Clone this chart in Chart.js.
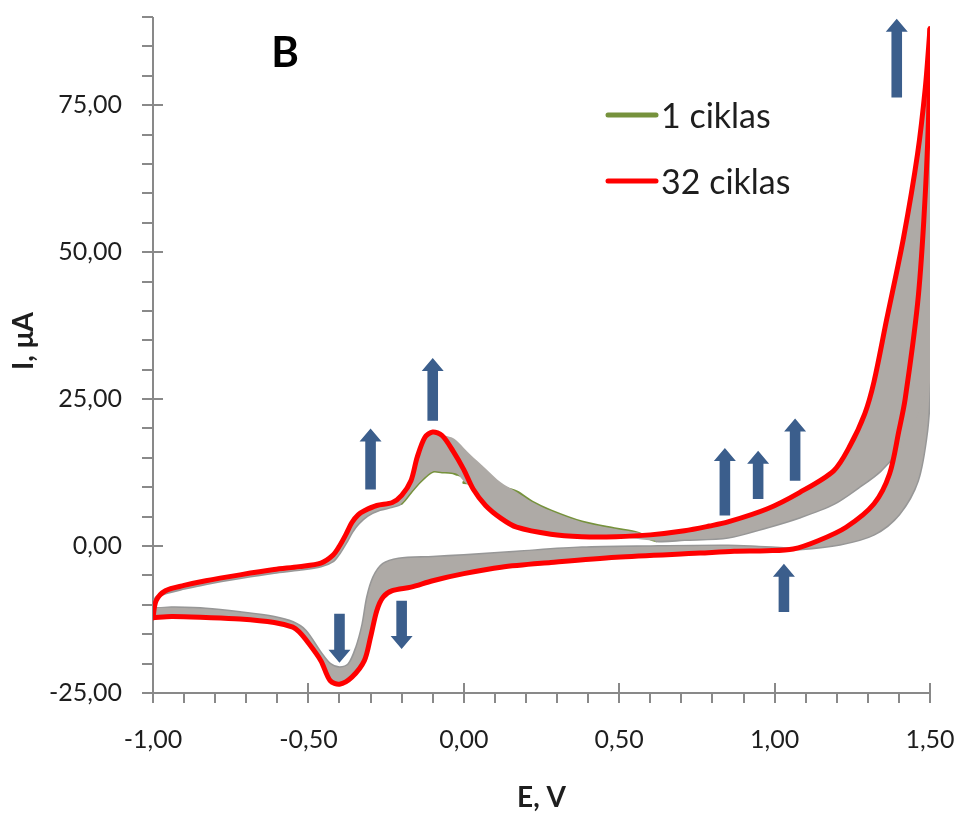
<!DOCTYPE html>
<html>
<head>
<meta charset="utf-8">
<script src="https://cdn.jsdelivr.net/npm/chart.js@4"></script>
<style>
html,body{margin:0;padding:0;background:#fff;}
#wrap{width:959px;height:814px;position:relative;}
</style>
</head>
<body>
<div id="wrap"><canvas id="c" width="959" height="814"></canvas></div>
<script>
// ---------- Data (E in V, I in µA) ----------
// Cycle 32, anodic sweep (-1.00 -> 1.50)
const c32FwdE = [-1.00,-0.99,-0.96,-0.90,-0.83,-0.72,-0.61,-0.53,-0.46,-0.42,-0.40,-0.38,-0.36,-0.34,-0.32,-0.28,-0.23,-0.20,-0.17,-0.15,-0.125,-0.10,-0.07,-0.035,0.00,0.03,0.07,0.12,0.17,0.28,0.38,0.49,0.60,0.71,0.79,0.85,0.975,1.08,1.19,1.24,1.29,1.32,1.36,1.415,1.46,1.485,1.50];
const c32FwdI = [-12.2,-9.3,-7.6,-6.7,-5.9,-4.9,-4.0,-3.5,-2.9,-1.5,0.0,1.9,4.0,5.3,6.0,6.9,7.4,8.6,11.1,15.1,18.5,19.4,18.8,16.2,13.0,9.7,6.9,4.7,3.2,2.0,1.6,1.6,1.9,2.6,3.4,4.1,6.3,9.1,12.8,16.8,22.5,28.0,38.4,52.5,66.7,78.0,88.0];
// Cycle 32, cathodic sweep (1.50 -> -1.00)
const c32RevE = [1.50,1.495,1.48,1.46,1.42,1.40,1.37,1.32,1.23,1.14,1.06,0.975,0.87,0.76,0.49,0.28,0.12,0.00,-0.10,-0.17,-0.23,-0.26,-0.28,-0.30,-0.32,-0.36,-0.40,-0.43,-0.46,-0.50,-0.53,-0.55,-0.61,-0.72,-0.83,-0.94,-1.00];
const c32RevI = [88.0,72.3,55.3,41.2,25.0,19.6,12.3,7.2,3.2,0.9,-0.5,-0.8,-0.9,-1.2,-1.9,-2.8,-3.6,-4.7,-5.9,-7.0,-7.6,-8.7,-11.0,-15.5,-19.5,-22.3,-23.5,-22.9,-19.5,-16.5,-14.6,-13.8,-13.0,-12.4,-12.15,-12.0,-12.2];

// Cycle 1 (starts at 0.00 V, anodic to 1.50, cathodic to -1.00, back to 0.00)
const c1E = [0.00,0.03,0.08,0.12,0.17,0.22,0.28,0.38,0.49,0.56,0.62,0.71,0.85,0.975,1.08,1.19,1.27,1.34,1.40,1.45,1.48,1.50,
             1.49,1.46,1.40,1.32,1.21,1.08,1.03,0.95,0.85,0.60,0.38,0.17,0.00,-0.10,-0.21,-0.26,-0.29,-0.31,-0.325,-0.345,-0.37,-0.40,-0.43,-0.46,-0.51,-0.55,-0.61,-0.72,-0.83,-0.94,-1.00,
             -0.99,-0.96,-0.90,-0.83,-0.72,-0.61,-0.53,-0.46,-0.42,-0.40,-0.38,-0.36,-0.34,-0.31,-0.27,-0.23,-0.20,-0.17,-0.14,-0.10,-0.07,-0.04,-0.02,0.00];
const c1I = [10.8,10.7,10.4,10.0,9.2,7.5,6.0,4.1,2.9,2.2,0.9,1.1,1.5,3.2,4.9,7.2,10.0,12.8,16.5,21.0,25.0,28.0,
             19.6,11.1,5.4,2.0,0.3,-0.5,-0.4,-0.2,0.0,-0.1,-0.3,-1.0,-1.6,-1.9,-2.2,-3.1,-5.3,-8.7,-13.3,-17.2,-20.1,-20.7,-20.1,-18.2,-14.4,-13.0,-12.1,-11.3,-10.7,-10.5,-10.5,
             -8.8,-8.0,-7.2,-6.4,-5.4,-4.5,-4.0,-3.4,-2.5,-1.2,0.5,2.4,3.8,5.2,6.2,6.7,7.3,9.2,11.0,12.7,12.6,12.5,12.2,11.9];

// Envelope of the band formed by cycles 1-31 (anodic sweeps): lower and upper edge
const bandFwdLoE = [-1.00,-0.99,-0.96,-0.90,-0.83,-0.72,-0.61,-0.53,-0.46,-0.42,-0.40,-0.38,-0.36,-0.34,-0.31,-0.27,-0.23,-0.20,-0.17,-0.14,-0.10,-0.07,-0.04,-0.02,0.00,0.03,0.07,0.12,0.17,0.28,0.38,0.49,0.62,0.71,0.85,0.975,1.08,1.19,1.27,1.34,1.40,1.45,1.48,1.50];
const bandFwdLoI = [-12.2,-9.3,-8.0,-7.2,-6.4,-5.4,-4.5,-4.0,-3.4,-2.5,-1.2,0.5,2.4,3.8,5.2,6.2,6.7,7.3,9.2,11.0,12.7,12.6,12.5,12.2,11.0,9.7,6.9,4.7,3.2,2.0,1.6,1.6,0.9,1.1,1.5,3.2,4.9,7.2,10.0,12.8,16.5,21.0,25.0,28.0];
const bandFwdHiE = [-1.00,-0.99,-0.96,-0.90,-0.83,-0.72,-0.61,-0.53,-0.46,-0.42,-0.40,-0.38,-0.36,-0.34,-0.32,-0.28,-0.23,-0.20,-0.17,-0.15,-0.125,-0.10,-0.07,-0.04,-0.02,0.02,0.07,0.12,0.17,0.22,0.28,0.38,0.49,0.56,0.60,0.71,0.79,0.85,0.975,1.08,1.19,1.24,1.29,1.32,1.36,1.415,1.46,1.485,1.50];
const bandFwdHiI = [-10.5,-8.8,-7.6,-6.7,-5.9,-4.9,-4.0,-3.5,-2.9,-1.5,0.0,1.9,4.0,5.3,6.0,6.9,7.4,8.6,11.1,15.1,18.5,19.4,18.9,18.5,17.8,15.6,13.2,10.8,9.2,7.5,6.0,4.1,2.9,2.3,1.9,2.6,3.4,4.1,6.3,9.1,12.8,16.8,22.5,28.0,38.4,52.5,66.7,78.0,88.0];
// Envelope of the band formed by cycles 1-31 (cathodic sweeps)
const bandRevLoE = [-1.00,-0.94,-0.83,-0.72,-0.61,-0.55,-0.53,-0.50,-0.46,-0.43,-0.40,-0.36,-0.32,-0.30,-0.28,-0.26,-0.23,-0.17,-0.10,0.00,0.12,0.28,0.49,0.76,0.87,0.975,1.06,1.08,1.21,1.32,1.40,1.46,1.49,1.50];
const bandRevLoI = [-12.2,-12.0,-12.15,-12.4,-13.0,-13.8,-14.6,-16.5,-19.5,-22.9,-23.5,-22.3,-19.5,-15.5,-11.0,-8.7,-7.6,-7.0,-5.9,-4.7,-3.6,-2.8,-1.9,-1.2,-0.9,-0.8,-0.5,-0.5,0.3,2.0,5.4,11.1,19.6,28.0];
const bandRevHiE = [-1.00,-0.94,-0.83,-0.72,-0.61,-0.55,-0.51,-0.46,-0.43,-0.40,-0.37,-0.345,-0.325,-0.31,-0.29,-0.26,-0.21,-0.10,0.00,0.17,0.38,0.60,0.85,0.95,1.03,1.06,1.14,1.23,1.32,1.37,1.40,1.42,1.46,1.48,1.495,1.50];
const bandRevHiI = [-10.5,-10.5,-10.7,-11.3,-12.1,-13.0,-14.4,-18.2,-20.1,-20.7,-20.1,-17.2,-13.3,-8.7,-5.3,-3.1,-2.2,-1.9,-1.6,-1.0,-0.3,-0.1,0.0,-0.2,-0.4,-0.5,0.9,3.2,7.2,12.3,19.6,25.0,41.2,55.3,72.3,88.0];

// Blue arrows (E position, tail current, tip current)
const arrowE    = [1.393, -0.10, -0.30, -0.40, -0.20, 0.84, 0.947, 1.066, 1.03];
const arrowTail = [76.3, 21.3, 9.6, -11.5, -9.3, 5.2, 8.0, 11.1, -11.2];
const arrowTip  = [89.7, 32.0, 20.0, -19.85, -17.5, 16.7, 16.2, 21.7, -3.0];

// Axis settings / texts
const xMin = -1.0, xMax = 1.5, xMajor = 0.5, xMinor = 0.1;
const yMin = -25, yMax = 90, yMajor = 25, yMinor = 5;
const xTitle = 'E, V';
const yTitle = 'I, μA';
const panelLabel = 'B';
const legendLabels = ['1 ciklas', '32 ciklas'];

// ---------- helpers ----------
const toXY = (E, I) => E.map((e, i) => ({x: e, y: I[i]}));
const fmt = v => v.toFixed(2).replace('.', ',');
const isMultiple = (v, step, base) => Math.abs((v - base) / step - Math.round((v - base) / step)) < 1e-6;

const RED = '#ff0000', GREEN = '#76923c', EDGE = '#979797', BAND = '#aeaaa6', AXIS = '#898989', TXT = '#1e1e1e', ARROW = '#3b5e8c';
const FONT = 'Lato, "Open Sans", sans-serif';
// cycle-1 segments that stay visible in green (first part of the anodic run and the final anodic peak)
const c1FinalStart = 53;
const c1SegColor = ctx => {
  const i = ctx.p0DataIndex;
  const x = ctx.p0.parsed.x;
  return (i <= 9 || (i >= c1FinalStart && x >= -0.2)) ? GREEN : EDGE;
};

const deco = {
  id: 'deco',
  beforeDatasetsDraw(chart) {
    const {ctx, chartArea: a, scales: {x, y}} = chart;
    ctx.save();
    ctx.strokeStyle = AXIS;
    ctx.lineWidth = 2;
    ctx.beginPath();
    ctx.moveTo(a.left, a.top); ctx.lineTo(a.left, a.bottom);
    ctx.moveTo(a.left, a.bottom); ctx.lineTo(a.right, a.bottom);
    ctx.stroke();
    y.ticks.forEach(t => {
      const p = Math.round(y.getPixelForValue(t.value));
      const major = isMultiple(t.value, yMajor, yMin);
      ctx.beginPath();
      ctx.moveTo(a.left - 11, p);
      ctx.lineTo(major ? a.left + 10 : a.left, p);
      ctx.stroke();
    });
    x.ticks.forEach(t => {
      const p = Math.round(x.getPixelForValue(t.value));
      const major = isMultiple(t.value, xMajor, xMin);
      ctx.beginPath();
      ctx.moveTo(p, major ? a.bottom - 10 : a.bottom);
      ctx.lineTo(p, a.bottom + 10);
      ctx.stroke();
    });
    ctx.restore();
  },
  afterDatasetsDraw(chart) {
    const {ctx, scales: {x, y}} = chart;
    ctx.save();
    ctx.fillStyle = ARROW;
    arrowE.forEach((e, i) => {
      const px = x.getPixelForValue(e);
      const tail = y.getPixelForValue(arrowTail[i]);
      const tip = y.getPixelForValue(arrowTip[i]);
      const dir = tip < tail ? 1 : -1;
      const sw = 5.3, hw = 11, hl = 13;
      ctx.beginPath();
      ctx.moveTo(px - sw, tail);
      ctx.lineTo(px - sw, tip + dir * hl);
      ctx.lineTo(px - hw, tip + dir * hl);
      ctx.lineTo(px, tip);
      ctx.lineTo(px + hw, tip + dir * hl);
      ctx.lineTo(px + sw, tip + dir * hl);
      ctx.lineTo(px + sw, tail);
      ctx.closePath();
      ctx.fill();
    });
    ctx.restore();
  },
  afterDraw(chart) {
    const {ctx, chartArea: a} = chart;
    ctx.save();
    ctx.fillStyle = '#000';
    ctx.font = 'bold 42px ' + FONT;
    ctx.textAlign = 'center';
    ctx.textBaseline = 'alphabetic';
    ctx.fillText(panelLabel, 285, 67);
    ctx.fillStyle = TXT;
    ctx.font = 'bold 28px ' + FONT;
    ctx.fillText(xTitle, (a.left + a.right) / 2, 807);
    ctx.save();
    ctx.translate(33, 341);
    ctx.rotate(-Math.PI / 2);
    ctx.fillText(yTitle, 0, 0);
    ctx.restore();
    const items = [{c: GREEN, t: legendLabels[0], y: 115}, {c: RED, t: legendLabels[1], y: 181}];
    ctx.font = '34px ' + FONT;
    ctx.textAlign = 'left';
    ctx.textBaseline = 'middle';
    items.forEach(it => {
      ctx.strokeStyle = it.c;
      ctx.lineWidth = 5;
      ctx.lineCap = 'round';
      ctx.beginPath();
      ctx.moveTo(608, it.y); ctx.lineTo(656, it.y);
      ctx.stroke();
      ctx.fillStyle = TXT;
      ctx.fillText(it.t, 661, it.y + 2);
    });
    ctx.restore();
  }
};

function build() {
  const bandBase = {borderColor: 'rgba(0,0,0,0)', borderWidth: 1, pointRadius: 0, order: 1, tension: 0.3};
  new Chart(document.getElementById('c'), {
    type: 'line',
    data: {
      datasets: [
        {label: legendLabels[1], data: toXY(c32FwdE, c32FwdI), borderColor: RED, borderWidth: 5, fill: false, order: 0},
        {label: legendLabels[1] + ' (grįžtamasis)', data: toXY(c32RevE, c32RevI), borderColor: RED, borderWidth: 5, fill: false, order: 0},
        Object.assign({label: 'cikliai 1–31 (anodinis)', data: toXY(bandFwdLoE, bandFwdLoI), fill: false}, bandBase),
        Object.assign({label: 'cikliai 1–31 (anodinis) ', data: toXY(bandFwdHiE, bandFwdHiI), fill: '-1', backgroundColor: BAND}, bandBase),
        Object.assign({label: 'cikliai 1–31 (katodinis)', data: toXY(bandRevLoE, bandRevLoI), fill: false}, bandBase),
        Object.assign({label: 'cikliai 1–31 (katodinis) ', data: toXY(bandRevHiE, bandRevHiI), fill: '-1', backgroundColor: BAND}, bandBase),
        {label: legendLabels[0], data: toXY(c1E, c1I), borderColor: GREEN, borderWidth: 3, fill: false, order: 2,
         segment: {borderColor: c1SegColor}}
      ]
    },
    options: {
      responsive: false,
      animation: false,
      layout: {padding: {left: 0, right: 29, top: 17, bottom: 0}},
      elements: {
        point: {radius: 0, hoverRadius: 0},
        line: {tension: 0.3, borderJoinStyle: 'round', borderCapStyle: 'round'}
      },
      plugins: {legend: {display: false}, tooltip: {enabled: false}},
      events: [],
      scales: {
        x: {
          type: 'linear', min: xMin, max: xMax,
          afterFit(s) { s.height = 121; s.paddingLeft = 0; s.paddingRight = 0; },
          grid: {display: false, drawTicks: false},
          border: {display: false},
          ticks: {
            stepSize: xMinor, autoSkip: false, maxRotation: 0, minRotation: 0, padding: 32,
            font: {family: FONT, size: 25}, color: TXT,
            callback: v => isMultiple(v, xMajor, xMin) ? fmt(v) : ''
          }
        },
        y: {
          type: 'linear', min: yMin, max: yMax,
          afterFit(s) { s.width = 153; s.paddingTop = 0; s.paddingBottom = 0; },
          grid: {display: false, drawTicks: false},
          border: {display: false},
          ticks: {
            stepSize: yMinor, autoSkip: false, padding: 31,
            font: {family: FONT, size: 25}, color: TXT,
            callback: v => isMultiple(v, yMajor, yMin) ? fmt(v) : ''
          }
        }
      }
    },
    plugins: [deco]
  });
}

if (document.fonts && document.fonts.load) {
  Promise.all([document.fonts.load('25px Lato'), document.fonts.load('bold 28px Lato')]).then(build, build);
} else {
  build();
}
</script>
</body>
</html>
